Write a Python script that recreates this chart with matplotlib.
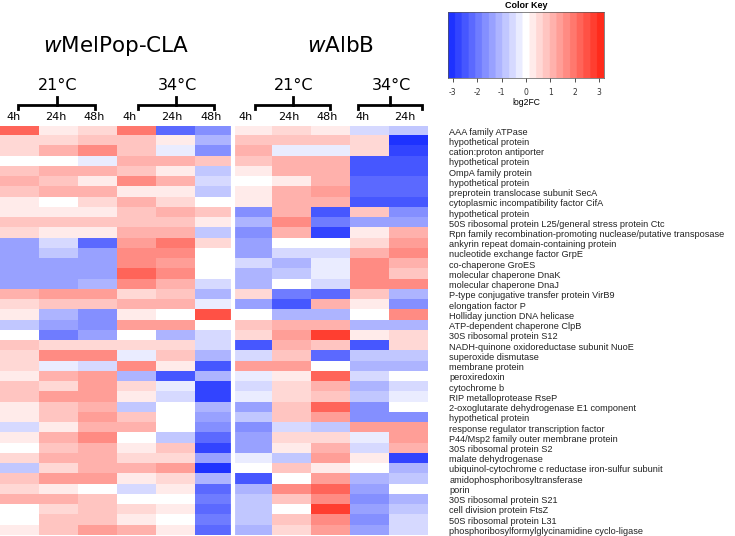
import numpy as np
import matplotlib.pyplot as plt
from matplotlib.colors import LinearSegmentedColormap, Normalize
from matplotlib.lines import Line2D

plt.rcParams["axes.unicode_minus"] = False

# Datos: log2FC por gen (filas) y condicion (columnas)
strains = ["wMelPop-CLA", "wAlbB"]
temps = ["21°C", "34°C", "21°C", "34°C"]
hours = ["4h", "24h", "48h", "4h", "24h", "48h", "4h", "24h", "48h", "4h", "24h"]

genes = [
    "AAA family ATPase",
    "hypothetical protein",
    "cation:proton antiporter",
    "hypothetical protein",
    "OmpA family protein",
    "hypothetical protein",
    "preprotein translocase subunit SecA",
    "cytoplasmic incompatibility factor CifA",
    "hypothetical protein",
    "50S ribosomal protein L25/general stress protein Ctc",
    "Rpn family recombination-promoting nuclease/putative transposase",
    "ankyrin repeat domain-containing protein",
    "nucleotide exchange factor GrpE",
    "co-chaperone GroES",
    "molecular chaperone DnaK",
    "molecular chaperone DnaJ",
    "P-type conjugative transfer protein VirB9",
    "elongation factor P",
    "Holliday junction DNA helicase",
    "ATP-dependent chaperone ClpB",
    "30S ribosomal protein S12",
    "NADH-quinone oxidoreductase subunit NuoE",
    "superoxide dismutase",
    "membrane protein",
    "peroxiredoxin",
    "cytochrome b",
    "RIP metalloprotease RseP",
    "2-oxoglutarate dehydrogenase E1 component",
    "hypothetical protein",
    "response regulator transcription factor",
    "P44/Msp2 family outer membrane protein",
    "30S ribosomal protein S2",
    "malate dehydrogenase",
    "ubiquinol-cytochrome c reductase iron-sulfur subunit",
    "amidophosphoribosyltransferase",
    "porin",
    "30S ribosomal protein S21",
    "cell division protein FtsZ",
    "50S ribosomal protein L31",
    "phosphoribosylformylglycinamidine cyclo-ligase",
]

# wMelPop-CLA 21°C (4h, 24h, 48h), 34°C (4h, 24h, 48h)
wmel = [
    [2.2, 0.2, 0.5, 2.0, -2.2, -1.6],
    [0.5, 0.5, 0.9, 0.8, 0.4, -1.0],
    [0.5, 1.2, 1.7, 0.9, -0.4, -1.6],
    [0.1, -0.1, -0.4, 1.1, 1.1, 0.9],
    [0.7, 1.0, 1.2, 0.7, 0.4, -0.8],
    [1.0, 0.7, 0.4, 1.6, 1.0, -0.6],
    [0.7, 1.0, 1.2, 0.4, 0.4, -0.8],
    [0.4, 0.1, 0.6, 1.1, 0.6, -0.1],
    [0.4, 0.4, 0.4, 0.7, 1.1, 0.8],
    [0.8, 0.8, 0.8, 0.8, 0.8, 0.3],
    [0.6, 0.3, 0.3, 1.1, 1.1, -0.8],
    [-1.3, -0.5, -2.2, 1.3, 2.0, 0.5],
    [-1.3, -0.7, -1.5, 1.8, 1.8, 0.1],
    [-1.5, -1.3, -1.3, 1.8, 1.5, -0.1],
    [-1.3, -1.5, -1.3, 2.2, 1.6, 0.1],
    [-1.5, -1.4, -1.1, 1.6, 1.2, -0.6],
    [1.1, 1.3, 1.3, 0.5, 0.9, -1.0],
    [0.6, 0.9, 0.9, 1.0, 1.0, -0.3],
    [0.4, -1.0, -1.6, 0.4, -0.1, 2.5],
    [-0.7, -1.3, -1.7, 1.5, 1.5, 0.1],
    [-0.1, -2.0, -1.5, 0.1, -1.1, -0.6],
    [0.9, 0.6, 0.6, 0.6, 0.6, -0.6],
    [0.6, 1.7, 1.7, -0.4, 0.8, -1.1],
    [0.6, -0.4, -0.6, 1.7, 0.4, -2.4],
    [0.4, 1.0, 1.3, -1.1, -2.4, -1.1],
    [0.8, 0.6, 1.5, 0.6, -0.4, -2.9],
    [0.8, 1.5, 1.3, 0.3, -0.6, -2.9],
    [0.3, 0.8, 1.1, -0.8, 0.1, -1.2],
    [0.3, 0.8, 1.5, 0.8, 0.1, -1.5],
    [-0.5, 0.3, 1.0, 1.1, -0.1, -1.8],
    [0.3, 1.1, 1.6, 0.1, -0.8, -2.3],
    [0.1, 0.9, 1.1, 0.4, 0.9, -2.8],
    [0.6, 1.1, 1.1, 0.6, 0.6, -1.5],
    [-0.7, 0.6, 1.1, 1.1, 1.5, -3.0],
    [0.9, 1.3, 1.3, 0.4, 0.6, -1.1],
    [0.6, 0.4, -0.1, -0.6, 0.4, -2.2],
    [1.1, 1.1, 0.9, 0.1, 0.1, -2.0],
    [0.1, 0.6, 0.9, 0.6, 0.3, -2.2],
    [0.1, 0.9, 0.9, 0.4, 0.1, -2.0],
    [0.4, 0.9, 1.5, 1.1, 0.4, -2.3],
]

# wAlbB 21°C (4h, 24h, 48h), 34°C (4h, 24h)
walb = [
    [0.2, 0.5, 0.2, -0.5, -0.7],
    [0.7, 0.7, 0.7, 0.5, -3.0],
    [1.2, -0.4, -0.4, 0.6, -2.8],
    [0.7, 1.0, 1.0, -2.5, -2.5],
    [0.4, 1.0, 1.2, -2.5, -2.5],
    [-0.1, 0.4, 1.2, -2.2, -2.2],
    [0.4, 1.0, 1.4, -2.2, -2.2],
    [0.4, 1.1, 1.1, -2.4, -2.4],
    [-1.6, 1.1, -2.4, 0.8, -1.6],
    [-1.2, 1.7, -2.0, -1.3, -1.3],
    [-1.6, 1.0, -2.8, 0.4, 1.0],
    [-1.3, -0.1, -0.1, 0.5, 1.3],
    [-1.5, -0.6, -0.6, 1.0, 1.6],
    [-0.6, -1.0, -0.4, 1.7, 1.0],
    [-1.0, -0.8, -0.4, 1.6, 0.8],
    [-1.0, -0.1, -0.6, 1.8, 1.8],
    [0.6, -2.0, -2.2, 0.9, -1.0],
    [-1.5, -2.5, 1.1, 0.4, -1.6],
    [0.1, -1.0, -1.2, -0.1, 1.8],
    [0.7, 1.1, 1.1, -1.0, -1.0],
    [0.6, 1.4, 2.8, 0.4, 0.6],
    [-2.5, 1.2, 0.9, -2.5, 0.6],
    [-0.6, 0.9, -2.2, -0.9, -0.9],
    [1.5, 1.3, -0.1, -1.1, -1.1],
    [-0.4, 0.4, 2.2, -0.6, 0.1],
    [-0.5, 0.6, 1.1, -1.1, -0.6],
    [-0.3, 0.6, 0.8, -0.8, -0.3],
    [-1.4, 0.8, 2.2, -1.6, 0.1],
    [-0.8, 0.8, 1.5, -1.6, -1.6],
    [-1.8, -0.5, -0.7, 1.5, 1.5],
    [-1.5, 0.6, 0.6, -0.4, 1.3],
    [-1.5, 0.3, 1.1, -0.6, 1.0],
    [-0.4, -0.8, 1.3, 0.4, -2.8],
    [-0.1, 0.9, 0.4, -0.1, -1.1],
    [-2.5, 0.1, 1.5, -1.0, -0.8],
    [-1.0, 1.8, 2.3, -1.4, 0.1],
    [-0.8, 0.8, 1.8, -1.6, -1.1],
    [-0.8, 0.1, 2.7, -1.4, -0.8],
    [-0.8, 0.8, 1.8, -1.8, -0.6],
    [-1.1, 0.6, 1.3, -1.4, -0.6],
]

data = np.hstack([np.array(wmel), np.array(walb)])
nrow, ncol = data.shape

cmap = LinearSegmentedColormap.from_list("bwr_key", ["#1e32ff", "#ffffff", "#ff2b1c"], N=23)
norm = Normalize(vmin=-3.2, vmax=3.2)

W, H = 735, 536
fig = plt.figure(figsize=(W / 100, H / 100), dpi=100)

def fx(px):
    return px / W

def fy(py):
    return 1 - py / H

# heatmap
ax = fig.add_axes([0, fy(535.5), fx(427), (535.5 - 126) / H])
ax.imshow(data, cmap=cmap, norm=norm, aspect="auto", interpolation="nearest")
ax.axvline(5.5, color="white", lw=3)
ax.set_xticks([])
ax.yaxis.tick_right()
ax.set_yticks(np.arange(nrow))
ax.set_yticklabels(genes, fontsize=6.6, family="Liberation Sans", color="#222222")
ax.tick_params(axis="y", length=0, pad=16)
for s in ax.spines.values():
    s.set_visible(False)

# encabezados: hora
for j, h in enumerate(hours):
    x0 = (j + 0.155) * 427 / ncol
    fig.text(fx(x0), fy(117), h, fontsize=8, ha="left", va="center", family="DejaVu Sans")

# llaves de temperatura
brackets = [(18, 95), (138, 214), (255, 330), (358, 422)]
for (a, b), t in zip(brackets, temps):
    c = (a + b) / 2
    fig.add_artist(Line2D([fx(a), fx(a), fx(b), fx(b)], [fy(109), fy(105), fy(105), fy(109)],
                          color="black", lw=2, solid_joinstyle="miter"))
    fig.add_artist(Line2D([fx(c), fx(c)], [fy(105), fy(97)], color="black", lw=2))
    fig.text(fx(c + 1), fy(86), t, fontsize=11.5, ha="center", va="center", family="DejaVu Sans")

# cepas
strain_x = [116, 341]
for x, s in zip(strain_x, strains):
    fig.text(fx(x), fy(46), r"$\mathit{w}$" + s[1:], fontsize=15.5, ha="center", va="center",
             family="DejaVu Sans")

# color key
kax = fig.add_axes([fx(448), fy(78), fx(604) - fx(448), (78 - 12) / H])
grad = np.linspace(-3.2, 3.2, 400).reshape(1, -1)
kax.imshow(grad, cmap=cmap, norm=norm, aspect="auto", extent=[-3.2, 3.2, 0, 1])
kax.set_yticks([])
kax.set_xticks(np.arange(-3, 4))
kax.tick_params(axis="x", labelsize=5.5, length=3, width=0.6, colors="#333333", pad=4)
kax.set_xlabel("log2FC", fontsize=6.2, family="Liberation Sans", labelpad=1)
kax.set_title("Color Key", fontsize=6.5, fontweight="bold", family="Liberation Sans", pad=3)
for s in kax.spines.values():
    s.set_linewidth(0.5)
    s.set_color("#555555")

fig.savefig("out.png", dpi=100)
